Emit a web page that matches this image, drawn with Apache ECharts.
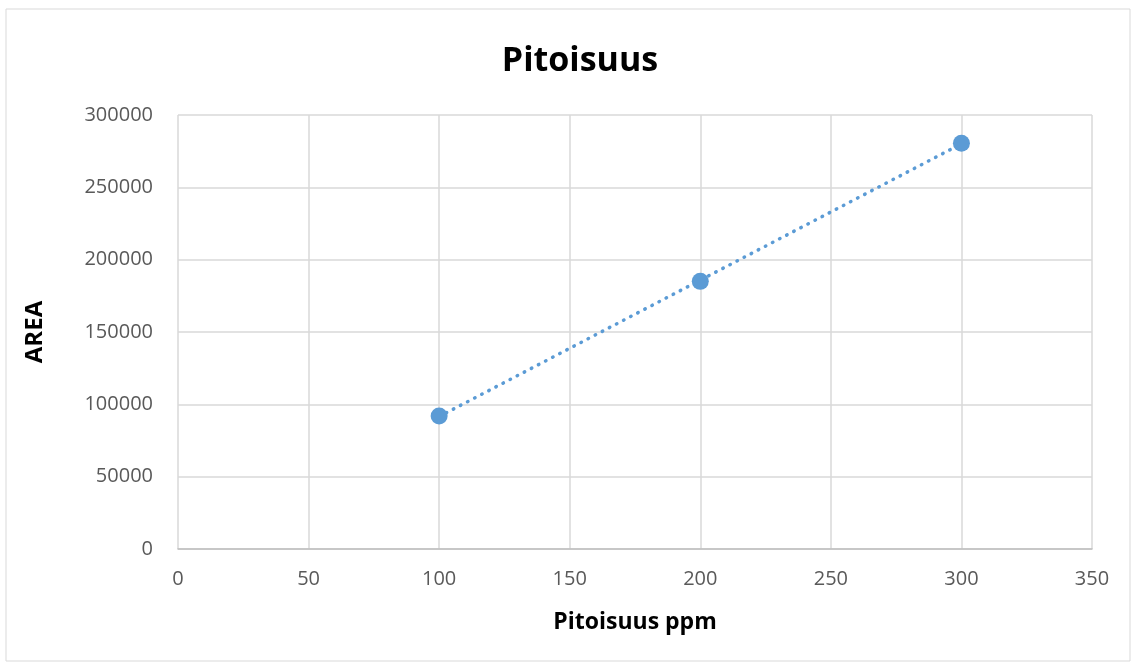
<!DOCTYPE html>
<html>
<head>
<meta charset="utf-8">
<script src="https://cdn.jsdelivr.net/npm/echarts@6/dist/echarts.min.js"></script>
<style>
  html, body { margin: 0; padding: 0; background: #fff; }
  #chart { width: 1132px; height: 663px; }
</style>
</head>
<body>
<div id="chart"></div>
<script>
// data
var ppm = [100, 200, 300];
var area = [92000, 185000, 280500];
var chartTitle = 'Pitoisuus';
var xName = 'Pitoisuus ppm';
var yName = 'AREA';

// linear trendline (least squares) from the points
var n = ppm.length, sx = 0, sy = 0, sxy = 0, sxx = 0;
for (var i = 0; i < n; i++) {
  sx += ppm[i]; sy += area[i]; sxy += ppm[i] * area[i]; sxx += ppm[i] * ppm[i];
}
var slope = (n * sxy - sx * sy) / (n * sxx - sx * sx);
var icpt = (sy - slope * sx) / n;
var xMin = Math.min.apply(null, ppm), xMax = Math.max.apply(null, ppm);
var trend = [[xMin, icpt + slope * xMin], [xMax, icpt + slope * xMax]];

var font = ['Open Sans', 'Liberation Sans', 'sans-serif'];
var chart = echarts.init(document.getElementById('chart'));

var option = {
  backgroundColor: '#fff',
  graphic: [{
    type: 'rect',
    shape: { x: 6, y: 9, width: 1124, height: 652 },
    style: { fill: 'none', stroke: '#d9d9d9', lineWidth: 1 },
    silent: true
  }],
  title: {
    text: chartTitle,
    left: 575,
    top: 39,
    textAlign: 'center',
    textStyle: { fontFamily: font, fontSize: 34, fontWeight: 'bold', color: '#000' }
  },
  grid: { left: 178, right: 40, top: 115, bottom: 114, containLabel: false },
  xAxis: {
    type: 'value',
    min: 0, max: 350, interval: 50,
    name: xName,
    nameLocation: 'middle',
    nameGap: 62,
    nameTextStyle: { fontFamily: font, fontSize: 23, fontWeight: 'bold', color: '#000' },
    axisLine: { show: true, lineStyle: { color: '#bfbfbf', width: 1.5 } },
    axisTick: { show: false },
    axisLabel: { fontFamily: font, fontSize: 20, color: '#595959', margin: 20 },
    splitLine: { show: true, lineStyle: { color: '#d9d9d9', width: 1.5 } }
  },
  yAxis: {
    type: 'value',
    min: 0, max: 300000, interval: 50000,
    name: yName,
    nameLocation: 'middle',
    nameGap: 131,
    nameRotate: 90,
    nameTextStyle: { fontFamily: font, fontSize: 24, fontWeight: 'bold', color: '#000' },
    axisLine: { show: false },
    axisTick: { show: false },
    axisLabel: {
      fontFamily: font, fontSize: 20, color: '#595959', margin: 25,
      formatter: function (v) { return String(v); }
    },
    splitLine: { show: true, lineStyle: { color: '#d9d9d9', width: 1.5 } }
  },
  series: [
    {
      name: 'trend',
      type: 'line',
      data: trend,
      showSymbol: false,
      symbol: 'none',
      silent: true,
      lineStyle: { color: '#5b9bd5', width: 3.5, type: [0.5, 7.5], cap: 'round' },
      z: 2
    },
    {
      name: 'AREA',
      type: 'scatter',
      data: ppm.map(function (x, i) { return [x, area[i]]; }),
      symbolSize: 17,
      itemStyle: { color: '#5b9bd5', opacity: 1 },
      z: 3
    }
  ]
};

chart.setOption(option);
</script>
</body>
</html>
